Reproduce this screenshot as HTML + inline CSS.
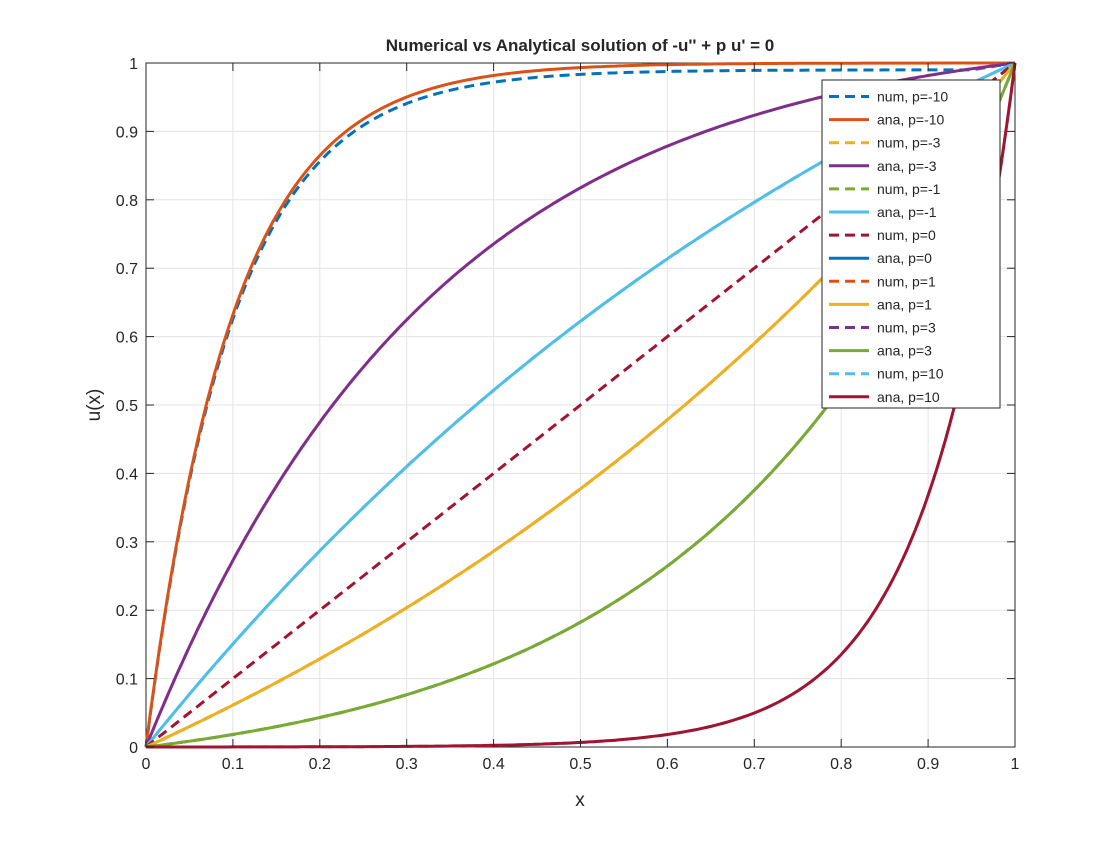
<!DOCTYPE html>
<html><head><meta charset="utf-8"><style>
body{margin:0;background:#fff;}
svg text{font-family:"Liberation Sans",sans-serif;fill:#262626;}
</style></head><body>
<svg id="s" width="1120" height="840" xmlns="http://www.w3.org/2000/svg">
<rect width="1120" height="840" fill="#fff"/>
<g id="grid"></g>
<rect x="146" y="63" width="869" height="684" fill="none" stroke="#262626" stroke-width="1"/>
<g id="curves" fill="none" stroke-width="3"></g>
<g id="ticks" font-size="16"></g>
<text x="580" y="51" font-size="17" font-weight="bold" text-anchor="middle">Numerical vs Analytical solution of -u'' + p u' = 0</text>
<text x="580" y="806" font-size="19" text-anchor="middle">x</text>
<text transform="translate(100,405) rotate(-90)" font-size="19" text-anchor="middle">u(x)</text>
<g id="leg"></g>
</svg>
<script>
var NS="http://www.w3.org/2000/svg";
function el(p,t,a,txt){var e=document.createElementNS(NS,t);for(var k in a)e.setAttribute(k,a[k]);if(txt!==undefined)e.textContent=txt;document.getElementById(p).appendChild(e);return e;}
var X0=146,X1=1015,Y0=747,Y1=63;
function px(x){return X0+x*(X1-X0);} function py(y){return Y0-y*(Y0-Y1);}
for(var i=0;i<=10;i++){var v=i/10;
 if(i>0&&i<10){el("grid","line",{x1:px(v),x2:px(v),y1:Y1,y2:Y0,stroke:"#e3e3e3","stroke-width":1});
 el("grid","line",{x1:X0,x2:X1,y1:py(v),y2:py(v),stroke:"#e3e3e3","stroke-width":1});}
 var lab=i==0?"0":i==10?"1":(v.toFixed(1));
 el("ticks","text",{x:px(v),y:Y0+22,"text-anchor":"middle"},lab);
 el("ticks","text",{x:X0-8,y:py(v)+6,"text-anchor":"end"},lab);
 el("ticks","line",{x1:px(v),x2:px(v),y1:Y0,y2:Y0-8,stroke:"#262626"});
 el("ticks","line",{x1:px(v),x2:px(v),y1:Y1,y2:Y1+8,stroke:"#262626"});
 el("ticks","line",{x1:X0,x2:X0+8,y1:py(v),y2:py(v),stroke:"#262626"});
 el("ticks","line",{x1:X1,x2:X1-8,y1:py(v),y2:py(v),stroke:"#262626"});
}
function ana(p,x){if(p==0)return x;return (1-Math.exp(p*x))/(1-Math.exp(p));}
var C=["#0072BD","#D95319","#EDB120","#7E2F8E","#77AC30","#4DBEEE","#A2142F"];
var ps=[-10,-3,-1,0,1,3,10],ci=0,leg=[];
ps.forEach(function(p){
 var cn=C[ci%7];ci++;var ca=C[ci%7];ci++;
 var d="";
 for(var i=0;i<=200;i++){var x=i/200,y=ana(p,x);
  if(p==-10){y=x<0.95?0.99*ana(p,x):0.99*ana(p,0.95)+(1-0.99*ana(p,0.95))*(x-0.95)/0.05;}
  d+=(i?"L":"M")+px(x).toFixed(1)+","+py(y).toFixed(1);}
 el("curves","path",{d:d,stroke:cn,"stroke-dasharray":"10,6"});
 leg.push(["num, p="+p,cn,true]);
 if(p!=0){var d2="";for(var i=0;i<=200;i++){var x=i/200;d2+=(i?"L":"M")+px(x).toFixed(1)+","+py(ana(p,x)).toFixed(1);}
  el("curves","path",{d:d2,stroke:ca});}
 leg.push(["ana, p="+p,ca,false]);
});
el("leg","rect",{x:822,y:80,width:178,height:328,fill:"#fff",stroke:"#262626","stroke-width":1});
leg.forEach(function(l,i){var y=96.5+i*23.1;
 var a={x1:829,x2:869,y1:y,y2:y,stroke:l[1],"stroke-width":3};
 if(l[2])a["stroke-dasharray"]="10,6";
 el("leg","line",a);
 el("leg","text",{x:877,y:y+5,"font-size":"14"},l[0]);});
</script>
</body></html>
